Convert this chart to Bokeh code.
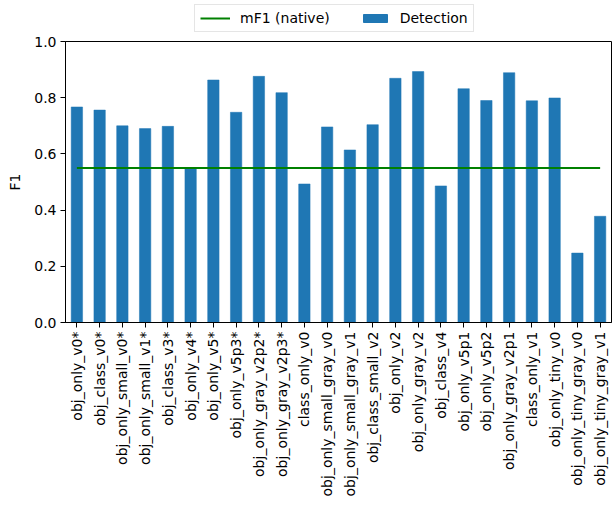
from bokeh.plotting import figure
from bokeh.layouts import column
from bokeh.models import Legend, LegendItem, FixedTicker, NumeralTickFormatter, Range1d
from bokeh.embed import file_html
from bokeh.resources import INLINE
import math

categories = ["obj_only_v0*", "obj_class_v0*", "obj_only_small_v0*", "obj_only_small_v1*",
              "obj_class_v3*", "obj_only_v4*", "obj_only_v5*", "obj_only_v5p3*",
              "obj_only_gray_v2p2*", "obj_only_gray_v2p3*", "class_only_v0",
              "obj_only_small_gray_v0", "obj_only_small_gray_v1", "obj_class_small_v2",
              "obj_only_v2", "obj_only_gray_v2", "obj_class_v4", "obj_only_v5p1",
              "obj_only_v5p2", "obj_only_gray_v2p1", "class_only_v1", "obj_only_tiny_v0",
              "obj_only_tiny_gray_v0", "obj_only_tiny_gray_v1"]
detection = [0.767, 0.756, 0.700, 0.690, 0.698, 0.550, 0.863, 0.748, 0.876, 0.818, 0.493,
             0.696, 0.614, 0.704, 0.869, 0.893, 0.486, 0.832, 0.790, 0.889, 0.789, 0.799,
             0.247, 0.378]
mf1_native = [0.55] * len(categories)
y_ticks = [0, 0.2, 0.4, 0.6, 0.8, 1.0]
legend_labels = ["mF1 (native)", "Detection"]

FONT = "DejaVu Sans"
FS = "14px"
BAR_COLOR = "#1f77b4"
LINE_COLOR = "green"

# main chart
p = figure(x_range=categories, y_range=(0, 1.0), frame_width=546, frame_height=281,
           output_backend="svg", toolbar_location=None,
           min_border_left=65, min_border_right=2, min_border_top=9, min_border_bottom=0)

p.vbar(x=categories, top=detection, width=0.5, fill_color=BAR_COLOR,
       line_color=BAR_COLOR, line_width=0.5)
p.line(x=categories, y=mf1_native, line_color=LINE_COLOR, line_width=2)

p.xgrid.visible = False
p.ygrid.visible = False
p.outline_line_color = "black"
p.outline_line_alpha = 1
p.outline_line_width = 1

p.yaxis.ticker = FixedTicker(ticks=y_ticks)
p.yaxis.formatter = NumeralTickFormatter(format="0.0")
p.yaxis.axis_label = "F1"
p.yaxis.axis_label_text_font = FONT
p.yaxis.axis_label_text_font_size = FS
p.yaxis.axis_label_text_font_style = "normal"
p.yaxis.axis_label_text_color = "black"
p.yaxis.axis_label_standoff = 8

for ax in (p.xaxis[0], p.yaxis[0]):
    ax.major_label_text_font = FONT
    ax.major_label_text_font_size = FS
    ax.major_label_text_color = "black"
    ax.axis_line_color = "black"
    ax.major_tick_line_color = "black"
    ax.major_tick_in = 0
    ax.major_tick_out = 5
    ax.minor_tick_line_color = None
    ax.major_label_standoff = 4

p.xaxis.major_label_orientation = math.pi / 2

# legend strip above the chart; swatch renderers hold one point outside the strip's visible range
top = figure(width=613, height=32, output_backend="svg", toolbar_location=None,
             x_range=Range1d(10, 11), y_range=Range1d(10, 11),
             x_axis_location=None, y_axis_location=None,
             min_border_left=0, min_border_right=0, min_border_top=0, min_border_bottom=0)
top.outline_line_color = None
top.xgrid.visible = False
top.ygrid.visible = False
ln_sw = top.line(x=[0, 0.1], y=[0, 0], line_color=LINE_COLOR, line_width=2)
bar_sw = top.vbar(x=[0], top=[0.1], width=0.05, fill_color=BAR_COLOR, line_color=BAR_COLOR)

legend = Legend(items=[LegendItem(label=legend_labels[0], renderers=[ln_sw]),
                       LegendItem(label=legend_labels[1], renderers=[bar_sw])],
                orientation="horizontal", location=(129, 0),
                label_text_font=FONT, label_text_font_size=FS, label_text_color="black",
                border_line_color="#cccccc", background_fill_color="white",
                glyph_width=30, glyph_height=10, label_height=16,
                label_standoff=10, spacing=30, padding=5, margin=0)
top.add_layout(legend)

open("out.html", "w").write(file_html(column(top, p, spacing=0), INLINE))
